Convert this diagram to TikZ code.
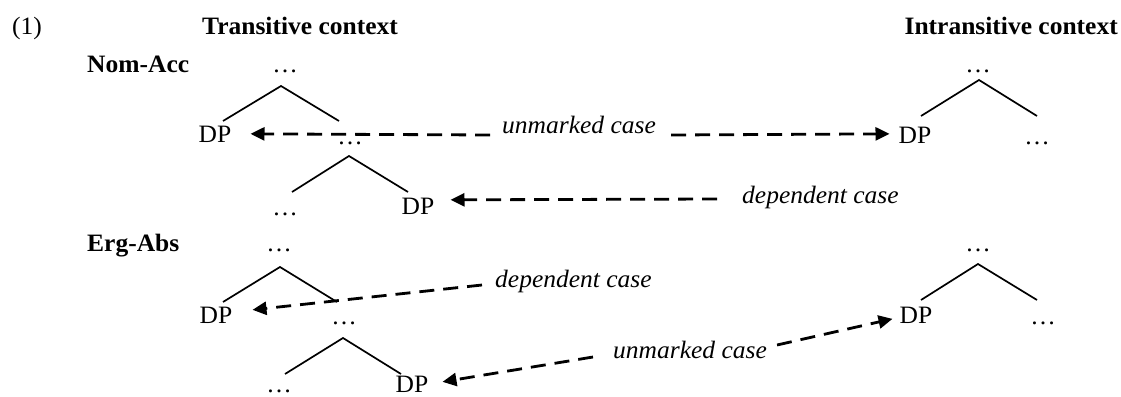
\documentclass[tikz,border=0pt]{standalone}
\usepackage{fontspec}
\setmainfont{Liberation Serif}[FakeStretch=1.02]
\usetikzlibrary{arrows.meta}
\begin{document}
\begin{tikzpicture}[x=1pt,y=-1pt,
  txt/.style={inner sep=0pt, font=\fontsize{25}{30}\selectfont},
  bf/.style={inner sep=0pt, font=\fontsize{25}{30}\selectfont\bfseries},
  it/.style={inner sep=0pt, font=\fontsize{25}{30}\selectfont\itshape},
  branch/.style={line width=1.7pt},
  arr/.style={line width=2.8pt, dash pattern=on 15pt off 9pt, -{Triangle[length=14pt,width=13pt]}}]
\useasboundingbox (0,0) rectangle (1121,396);
% headings
\node[txt,anchor=base west] (ex) at (12,35) {(1)};
\node[bf,anchor=base west] (trans) at (202,35) {Transitive context};
\node[bf,anchor=base east] (intrans) at (1118,35) {Intransitive context};
% ---------------- Nom-Acc
\node[bf,anchor=base west] (nomacc) at (87,72) {Nom-Acc};
\node[txt,anchor=base] (nt0) at (285,72) {…};
\coordinate (nta) at (281,86);
\coordinate (ntl) at (223,121);
\coordinate (ntr) at (339,121);
\node[txt,anchor=base] (ndp1) at (215,142) {DP};
\node[txt,anchor=base] (nt1) at (350,144) {…};
\coordinate (ntb) at (349,156);
\coordinate (ntbl) at (292,192);
\coordinate (ntbr) at (408,192);
\node[txt,anchor=base] (nt2) at (285,215) {…};
\node[txt,anchor=base] (ndp2) at (418,214) {DP};
\draw[branch] (ntl) -- (nta) -- (ntr);
\draw[branch] (ntbl) -- (ntb) -- (ntbr);
% intransitive
\node[txt,anchor=base] (ni0) at (978,72) {…};
\coordinate (nia) at (979,80);
\coordinate (nil) at (921,116);
\coordinate (nir) at (1037,116);
\node[txt,anchor=base] (ndp3) at (915,143) {DP};
\node[txt,anchor=base] (ni1) at (1037,144) {…};
\draw[branch] (nil) -- (nia) -- (nir);
% labels
\node[it,anchor=base west] (nunm) at (502,133) {unmarked case};
\node[it,anchor=base west] (ndep) at (742,203) {dependent case};
\draw[arr] ([xshift=-12pt,yshift=-2pt]nunm.base west) -- ([xshift=19pt]ndp1.east);
\draw[arr] ([xshift=15pt,yshift=-2pt]nunm.base east) -- ([xshift=-9pt,yshift=1pt]ndp3.west);
\draw[arr] ([xshift=-25pt,yshift=4pt]ndep.base west) -- ([xshift=16pt,yshift=6pt]ndp2.east);
% ---------------- Erg-Abs
\node[bf,anchor=base west] (ergabs) at (87,251) {Erg-Abs};
\node[txt,anchor=base] (et0) at (279,251) {…};
\coordinate (eta) at (280,267);
\coordinate (etl) at (223,302);
\coordinate (etr) at (337,302);
\node[txt,anchor=base] (edp1) at (216,323) {DP};
\node[txt,anchor=base] (et1) at (344,324) {…};
\coordinate (etb) at (343,338);
\coordinate (etbl) at (285,374);
\coordinate (etbr) at (401,374);
\node[txt,anchor=base] (et2) at (279,392) {…};
\node[txt,anchor=base] (edp2) at (412,392) {DP};
\draw[branch] (etl) -- (eta) -- (etr);
\draw[branch] (etbl) -- (etb) -- (etbr);
% intransitive
\node[txt,anchor=base] (ei0) at (978,251) {…};
\coordinate (eia) at (978,264);
\coordinate (eil) at (921,300);
\coordinate (eir) at (1037,300);
\node[txt,anchor=base] (edp3) at (916,323) {DP};
\node[txt,anchor=base] (ei1) at (1043,324) {…};
\draw[branch] (eil) -- (eia) -- (eir);
% labels
\node[it,anchor=base west] (edep) at (495,287) {dependent case};
\node[it,anchor=base west] (eunm) at (613,358) {unmarked case};
\draw[arr] ([xshift=-13pt,yshift=2pt]edep.base west) -- ([xshift=20pt,yshift=5pt]edp1.east);
\draw[arr] ([xshift=-20pt,yshift=1pt]eunm.base west) -- ([xshift=14pt,yshift=2pt]edp2.east);
\draw[arr] ([xshift=10pt,yshift=13pt]eunm.base east) -- ([xshift=-7pt,yshift=-4pt]edp3.west);
\end{tikzpicture}
\end{document}
